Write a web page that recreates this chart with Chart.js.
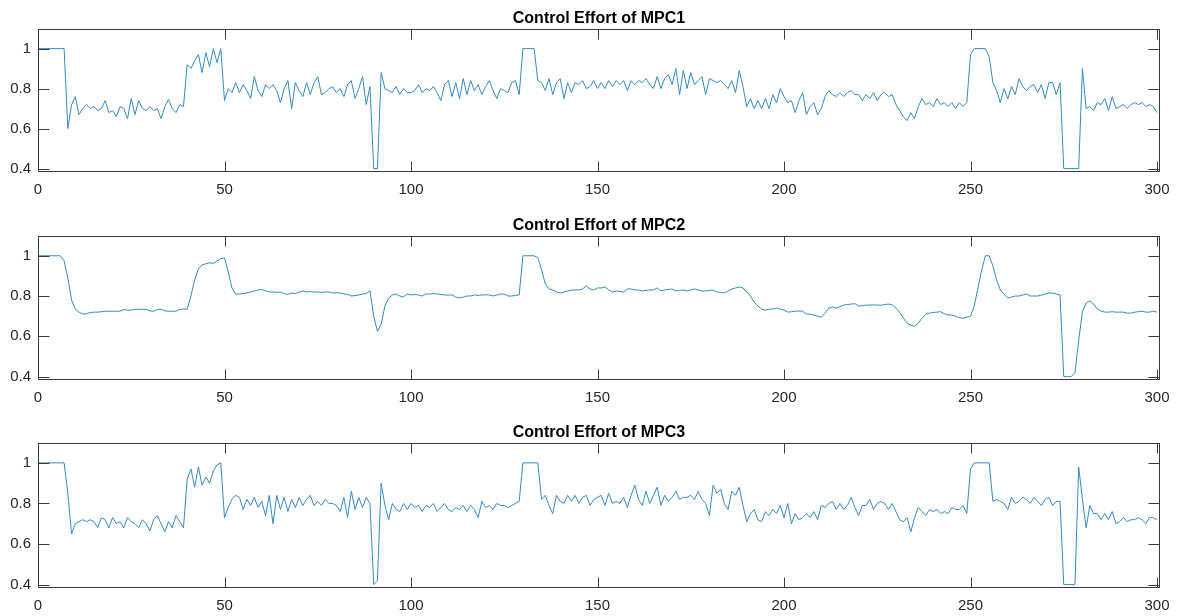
<!DOCTYPE html>
<html>
<head>
<meta charset="utf-8">
<script src="https://cdn.jsdelivr.net/npm/chart.js@4/dist/chart.umd.min.js"></script>
<style>
  body { margin: 0; background: #fff; }
  #wrap { position: relative; width: 1179px; height: 616px; }
  #wrap canvas { position: absolute; left: 0; }
</style>
</head>
<body>
<div id="wrap">
  <canvas id="c1" width="1179" height="205" style="top:0px"></canvas>
  <canvas id="c2" width="1179" height="205" style="top:205px"></canvas>
  <canvas id="c3" width="1179" height="206" style="top:410px"></canvas>
</div>
<script>
/* ================= DATA ================= */
const titles = ["Control Effort of MPC1", "Control Effort of MPC2", "Control Effort of MPC3"];

const xTicks = [0, 50, 100, 150, 200, 250, 300];
const xTickLabels = ["0", "50", "100", "150", "200", "250", "300"];
const yTicks = [0.4, 0.6, 0.8, 1];
const yTickLabels = ["0.4", "0.6", "0.8", "1"];

// one sample per time step, t = 0 .. 300
const mpc1 = [
  1,1,1,1,1,1,1,1,0.60,0.72,
  0.76,0.67,0.70,0.72,0.70,0.71,0.69,0.70,0.74,0.68,
  0.69,0.66,0.71,0.70,0.65,0.75,0.67,0.74,0.70,0.69,
  0.71,0.69,0.70,0.65,0.71,0.745,0.70,0.68,0.72,0.71,
  0.92,0.90,0.94,0.97,0.88,0.98,0.91,1.0,0.93,1.0,
  0.74,0.80,0.78,0.83,0.78,0.82,0.79,0.75,0.86,0.79,
  0.76,0.82,0.80,0.82,0.79,0.73,0.80,0.84,0.70,0.83,
  0.79,0.76,0.83,0.77,0.83,0.86,0.77,0.78,0.80,0.81,
  0.78,0.80,0.76,0.82,0.84,0.75,0.80,0.86,0.72,0.81,
  0.40,0.40,0.88,0.80,0.79,0.78,0.81,0.77,0.80,0.78,
  0.78,0.79,0.82,0.78,0.80,0.79,0.81,0.78,0.74,0.82,
  0.84,0.76,0.83,0.75,0.85,0.77,0.84,0.79,0.82,0.77,
  0.81,0.84,0.79,0.75,0.80,0.79,0.78,0.83,0.84,0.77,
  1,1,1,1,0.84,0.83,0.79,0.85,0.77,0.83,
  0.85,0.75,0.83,0.78,0.83,0.82,0.84,0.80,0.81,0.84,
  0.80,0.83,0.80,0.84,0.81,0.84,0.82,0.84,0.79,0.84,
  0.82,0.84,0.83,0.85,0.82,0.80,0.86,0.80,0.85,0.87,
  0.82,0.90,0.77,0.89,0.80,0.88,0.82,0.84,0.86,0.77,
  0.85,0.84,0.83,0.84,0.82,0.80,0.84,0.78,0.89,0.81,
  0.71,0.75,0.70,0.74,0.70,0.75,0.70,0.77,0.73,0.80,
  0.76,0.73,0.74,0.68,0.74,0.78,0.67,0.71,0.73,0.67,
  0.70,0.76,0.79,0.77,0.76,0.78,0.76,0.78,0.79,0.77,
  0.77,0.74,0.77,0.75,0.78,0.74,0.77,0.78,0.76,0.77,
  0.72,0.69,0.66,0.64,0.68,0.65,0.71,0.75,0.72,0.73,
  0.71,0.75,0.72,0.73,0.71,0.73,0.70,0.73,0.71,0.73,
  0.97,1,1,1,1,0.96,0.83,0.79,0.73,0.80,
  0.75,0.81,0.77,0.85,0.81,0.79,0.81,0.82,0.78,0.82,
  0.75,0.83,0.83,0.77,0.83,0.40,0.40,0.40,0.40,0.40,
  0.90,0.70,0.71,0.69,0.73,0.72,0.75,0.69,0.76,0.70,
  0.71,0.72,0.70,0.72,0.73,0.72,0.73,0.71,0.72,0.71,0.68
];

const mpc2 = [
  1,1,1,1,1,1,1,0.975,0.89,0.78,
  0.735,0.72,0.71,0.712,0.718,0.72,0.72,0.722,0.725,0.724,
  0.725,0.724,0.725,0.733,0.73,0.73,0.734,0.735,0.733,0.734,
  0.726,0.724,0.733,0.735,0.726,0.725,0.724,0.725,0.733,0.735,
  0.735,0.80,0.88,0.935,0.955,0.96,0.965,0.962,0.975,0.985,
  0.99,0.92,0.84,0.81,0.81,0.812,0.815,0.82,0.825,0.83,
  0.832,0.826,0.82,0.82,0.818,0.82,0.812,0.808,0.815,0.812,
  0.82,0.825,0.82,0.822,0.82,0.82,0.818,0.82,0.82,0.815,
  0.816,0.815,0.81,0.808,0.80,0.802,0.805,0.81,0.812,0.826,
  0.70,0.625,0.66,0.75,0.79,0.805,0.81,0.80,0.795,0.81,
  0.805,0.808,0.805,0.80,0.81,0.81,0.812,0.81,0.808,0.805,
  0.805,0.805,0.795,0.79,0.795,0.80,0.80,0.805,0.803,0.805,
  0.806,0.805,0.80,0.805,0.81,0.81,0.80,0.80,0.803,0.805,
  1,1,1,1,0.99,0.93,0.86,0.835,0.83,0.82,
  0.815,0.82,0.825,0.83,0.83,0.83,0.835,0.85,0.835,0.83,
  0.84,0.84,0.845,0.83,0.82,0.825,0.822,0.82,0.835,0.835,
  0.83,0.83,0.825,0.828,0.83,0.83,0.84,0.825,0.83,0.832,
  0.835,0.825,0.828,0.83,0.825,0.83,0.835,0.83,0.825,0.825,
  0.828,0.83,0.82,0.818,0.815,0.825,0.835,0.84,0.845,0.84,
  0.82,0.80,0.77,0.75,0.735,0.73,0.735,0.735,0.74,0.735,
  0.73,0.72,0.722,0.725,0.725,0.725,0.71,0.71,0.705,0.70,
  0.695,0.715,0.74,0.745,0.74,0.748,0.755,0.758,0.76,0.762,
  0.75,0.752,0.755,0.755,0.756,0.755,0.754,0.758,0.76,0.756,
  0.74,0.72,0.69,0.665,0.655,0.65,0.665,0.69,0.71,0.715,
  0.718,0.72,0.722,0.712,0.706,0.705,0.70,0.692,0.69,0.695,
  0.70,0.75,0.84,0.93,1,1,0.95,0.88,0.83,0.81,
  0.79,0.795,0.80,0.80,0.805,0.81,0.80,0.80,0.80,0.805,
  0.81,0.815,0.815,0.81,0.805,0.40,0.40,0.40,0.42,0.58,
  0.72,0.765,0.775,0.76,0.735,0.725,0.72,0.72,0.722,0.72,
  0.72,0.72,0.715,0.715,0.72,0.722,0.725,0.72,0.72,0.725,0.72
];

const mpc3 = [
  1,1,1,1,1,1,1,1,0.85,0.65,
  0.70,0.71,0.72,0.71,0.72,0.71,0.68,0.73,0.72,0.68,
  0.73,0.70,0.71,0.68,0.73,0.71,0.70,0.68,0.72,0.70,
  0.665,0.72,0.74,0.70,0.66,0.71,0.68,0.74,0.71,0.68,
  0.92,0.97,0.88,0.98,0.89,0.93,0.90,0.96,0.99,1.0,
  0.73,0.78,0.82,0.84,0.83,0.77,0.82,0.79,0.83,0.78,
  0.81,0.74,0.84,0.70,0.84,0.77,0.83,0.76,0.82,0.78,
  0.83,0.79,0.82,0.84,0.79,0.81,0.79,0.82,0.80,0.80,
  0.79,0.76,0.83,0.73,0.86,0.77,0.83,0.78,0.83,0.80,
  0.40,0.42,0.90,0.79,0.72,0.80,0.77,0.76,0.80,0.77,
  0.80,0.78,0.79,0.76,0.79,0.78,0.80,0.76,0.78,0.80,
  0.77,0.76,0.78,0.77,0.79,0.76,0.79,0.77,0.73,0.81,
  0.78,0.79,0.77,0.80,0.79,0.79,0.78,0.79,0.80,0.81,
  1,1,1,1,1,0.82,0.84,0.79,0.75,0.84,
  0.81,0.80,0.84,0.81,0.84,0.80,0.83,0.84,0.79,0.82,
  0.83,0.84,0.79,0.85,0.80,0.81,0.80,0.83,0.78,0.84,
  0.89,0.82,0.79,0.86,0.80,0.84,0.88,0.79,0.84,0.81,
  0.83,0.86,0.82,0.83,0.83,0.84,0.82,0.86,0.82,0.80,
  0.74,0.89,0.85,0.87,0.80,0.77,0.86,0.84,0.88,0.79,
  0.71,0.75,0.77,0.72,0.71,0.76,0.74,0.77,0.75,0.79,
  0.73,0.80,0.70,0.75,0.72,0.73,0.75,0.73,0.76,0.72,
  0.79,0.78,0.80,0.81,0.77,0.80,0.77,0.79,0.83,0.78,
  0.74,0.79,0.79,0.82,0.77,0.80,0.81,0.80,0.77,0.80,
  0.76,0.72,0.71,0.73,0.66,0.73,0.78,0.76,0.74,0.77,
  0.76,0.77,0.75,0.76,0.75,0.78,0.77,0.77,0.79,0.75,
  0.97,1,1,1,1,1,0.81,0.82,0.81,0.80,
  0.77,0.83,0.80,0.81,0.83,0.82,0.80,0.83,0.81,0.79,
  0.82,0.83,0.79,0.81,0.81,0.40,0.40,0.40,0.40,0.98,
  0.82,0.68,0.79,0.75,0.75,0.72,0.75,0.72,0.76,0.70,
  0.71,0.73,0.71,0.72,0.72,0.73,0.72,0.70,0.73,0.73,0.72
];

/* ================= STYLE ================= */
const lineColor = "#3389c4";
const axisColor = "#3a3a3a";
const textColor = "#262626";
const fontFamily = "'Liberation Sans', Arial, Helvetica, sans-serif";

// box + inward ticks on all four sides, like matlab axes
const framePlugin = {
  id: "frame",
  afterDatasetsDraw(chart) {
    const { ctx, chartArea: a, scales: { x, y } } = chart;
    ctx.save();
    ctx.strokeStyle = axisColor;
    ctx.lineWidth = 1;
    const l = Math.round(a.left) + 0.5, r = Math.round(a.right) - 0.5;
    const t = Math.round(a.top) + 0.5, b = Math.round(a.bottom) - 0.5;
    ctx.strokeRect(l, t, r - l, b - t);
    ctx.beginPath();
    xTicks.forEach(v => {
      const px = Math.round(x.getPixelForValue(v)) + 0.5;
      ctx.moveTo(px, b); ctx.lineTo(px, b - 10);
      ctx.moveTo(px, t); ctx.lineTo(px, t + 10);
    });
    yTicks.forEach(v => {
      const py = Math.round(y.getPixelForValue(v)) + 0.5;
      ctx.moveTo(l, py); ctx.lineTo(l + 11, py);
      ctx.moveTo(r, py); ctx.lineTo(r - 11, py);
    });
    ctx.stroke();

    // title above the box
    ctx.fillStyle = "#000";
    ctx.font = "bold 16px " + fontFamily;
    ctx.textAlign = "center";
    ctx.textBaseline = "alphabetic";
    ctx.fillText(chart.options.plugins.frame.title, (a.left + a.right) / 2, a.top - 6);
    ctx.restore();
  }
};

/* ================= CHARTS ================= */
function makeChart(id, title, values, padTop, xAxisH) {
  const points = values.map((v, i) => ({ x: i, y: v }));
  new Chart(document.getElementById(id), {
    type: "line",
    data: {
      datasets: [{
        data: points,
        borderColor: lineColor,
        borderWidth: 1,
        pointRadius: 0,
        tension: 0,
        fill: false
      }]
    },
    options: {
      responsive: false,
      animation: false,
      layout: { padding: { top: padTop, right: 19, left: 0, bottom: 0 } },
      plugins: {
        legend: { display: false },
        tooltip: { enabled: false },
        frame: { title }
      },
      scales: {
        x: {
          type: "linear",
          min: 0,
          max: 300.8,
          grid: { display: false, drawTicks: false },
          border: { display: false },
          ticks: {
            padding: 9,
            color: textColor,
            font: { family: fontFamily, size: 15 },
            maxRotation: 0,
            callback: (v, i) => xTickLabels[i]
          },
          afterBuildTicks: s => { s.ticks = xTicks.map(v => ({ value: v })); },
          afterFit: s => { s.height = xAxisH; }
        },
        y: {
          min: 0.383,
          max: 1.098,
          grid: { display: false, drawTicks: false },
          border: { display: false },
          ticks: {
            padding: 7,
            color: textColor,
            font: { family: fontFamily, size: 15 },
            callback: (v, i) => yTickLabels[i]
          },
          afterBuildTicks: s => { s.ticks = yTicks.map(v => ({ value: v })); },
          afterFit: s => { s.width = 38; }
        }
      }
    },
    plugins: [framePlugin]
  });
}

makeChart("c1", titles[0], mpc1, 29, 33);
makeChart("c2", titles[1], mpc2, 31, 30);
makeChart("c3", titles[2], mpc3, 33, 28);
</script>
</body>
</html>
